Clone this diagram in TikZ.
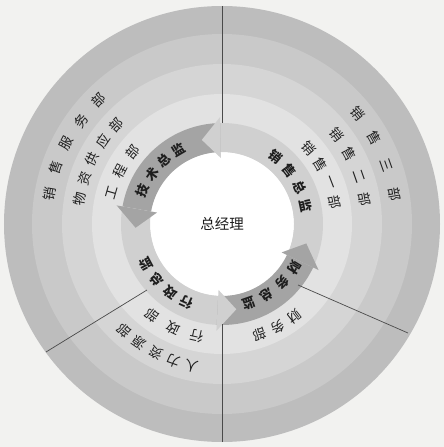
\documentclass[tikz,border=0pt]{standalone}
\usepackage{fontspec}
\setmainfont{Noto Sans CJK SC}
\definecolor{bgc}{HTML}{F2F2F0}
\definecolor{ringA}{HTML}{BDBDBD}
\definecolor{ringB}{HTML}{C9C9C9}
\definecolor{ringC}{HTML}{D5D5D5}
\definecolor{ringD}{HTML}{E2E2E2}
\definecolor{arrLight}{HTML}{D0D0D0}
\definecolor{arrDark}{HTML}{A4A4A4}
\definecolor{txt}{HTML}{1E1E1E}
\definecolor{linec}{HTML}{4A4A4A}
\tikzset{
  rtext/.style={font=\fontsize{13.5}{14}\selectfont, text=txt, inner sep=0pt},
  atext/.style={font=\fontsize{13}{14}\selectfont\bfseries, text=txt, inner sep=0pt},
  ctext/.style={font=\fontsize{14.5}{15}\selectfont, text=txt, inner sep=1pt},
  divline/.style={draw=linec, line width=0.7pt},
}
% #1 name prefix, #2 style, #3 radius, #4 start angle, #5 step, #6 characters
\newcommand\arctext[6]{%
  \foreach \ch [count=\i] in {#6} {%
    \pgfmathsetmacro\ang{#4+(\i-1)*(#5)}%
    \node[#2, rotate=\ang-90] (#1\i) at (\ang:#3) {\ch};
  }%
}
% body of a ring arrow: #1 colour, #2 tail angle, #3 head base angle
\newcommand\arrowbody[3]{%
  \fill[#1] (#2:72) arc[start angle=#2, end angle=#3, radius=72]
    -- (#3:101) arc[start angle=#3, end angle=#2, radius=101] -- cycle;
}
% head of a ring arrow: #1 colour, #2 head base angle
\newcommand\arrowhead[2]{%
  \fill[#1] (#2:66) -- ({#2+12.5}:86.5) -- (#2:107) -- cycle;
}
\begin{document}
\begin{tikzpicture}[x=1pt,y=1pt]
\useasboundingbox (-222,-223) rectangle (222,224);
\fill[bgc] (-222,-223) rectangle (222,224);
% rings
\fill[ringA] (0,0) circle (218);
\fill[ringB] (0,0) circle (190);
\fill[ringC] (0,0) circle (160);
\fill[ringD] (0,0) circle (130);
\fill[white] (0,0) circle (72);
% arrows
\arrowbody{arrLight}{-25.5}{91}
\arrowbody{arrDark}{91}{170}
\arrowbody{arrLight}{170}{267}
\arrowbody{arrDark}{267}{334.5}
\arrowhead{arrLight}{91}
\arrowhead{arrDark}{170}
\arrowhead{arrLight}{267}
\arrowhead{arrDark}{-25.5}
% dividing lines
\coordinate (t1) at (0,101);   \coordinate (t2) at (0,218);
\coordinate (b1) at (0,-100);  \coordinate (b2) at (0,-218);
\coordinate (l1) at (-75,-66); \coordinate (l2) at (-176,-128);
\coordinate (r1) at (76,-61);  \coordinate (r2) at (186,-109);
\draw[divline] (t1) -- (t2);
\draw[divline] (b1) -- (b2);
\draw[divline] (l1) -- (l2);
\draw[divline] (r1) -- (r2);
% centre
\node[ctext] (ceo) at (0,0) {总经理};
% texts on the rings
\arctext{sa}{rtext}{175}{39}{-9.7}{销,售,三,部}
\arctext{sb}{rtext}{145}{38}{-9.33}{销,售,二,部}
\arctext{sc}{rtext}{115}{41}{-10}{销,售,一,部}
\arctext{sd}{atext}{86}{51}{-13}{销,售,总,监}
\arctext{ta}{rtext}{175}{170}{-8.75}{销,售,服,务,部}
\arctext{tb}{rtext}{145}{170}{-8.25}{物,资,供,应,部}
\arctext{tc}{rtext}{115}{164}{-11.5}{工,程,部}
\arctext{td}{atext}{86}{157}{-12.2}{技,术,总,监}
\arctext{xd}{atext}{86}{246}{-12.7}{行,政,总,监}
\arctext{xc}{rtext}{115}{257.5}{-12.5}{行,政,部}
\arctext{xb}{rtext}{145}{258}{-7.6}{人,力,资,源,部}
\arctext{cd}{atext}{84}{329}{-13.3}{财,务,总,监}
\arctext{cc}{rtext}{117}{308}{-9.5}{财,务,部}
\end{tikzpicture}
\end{document}
